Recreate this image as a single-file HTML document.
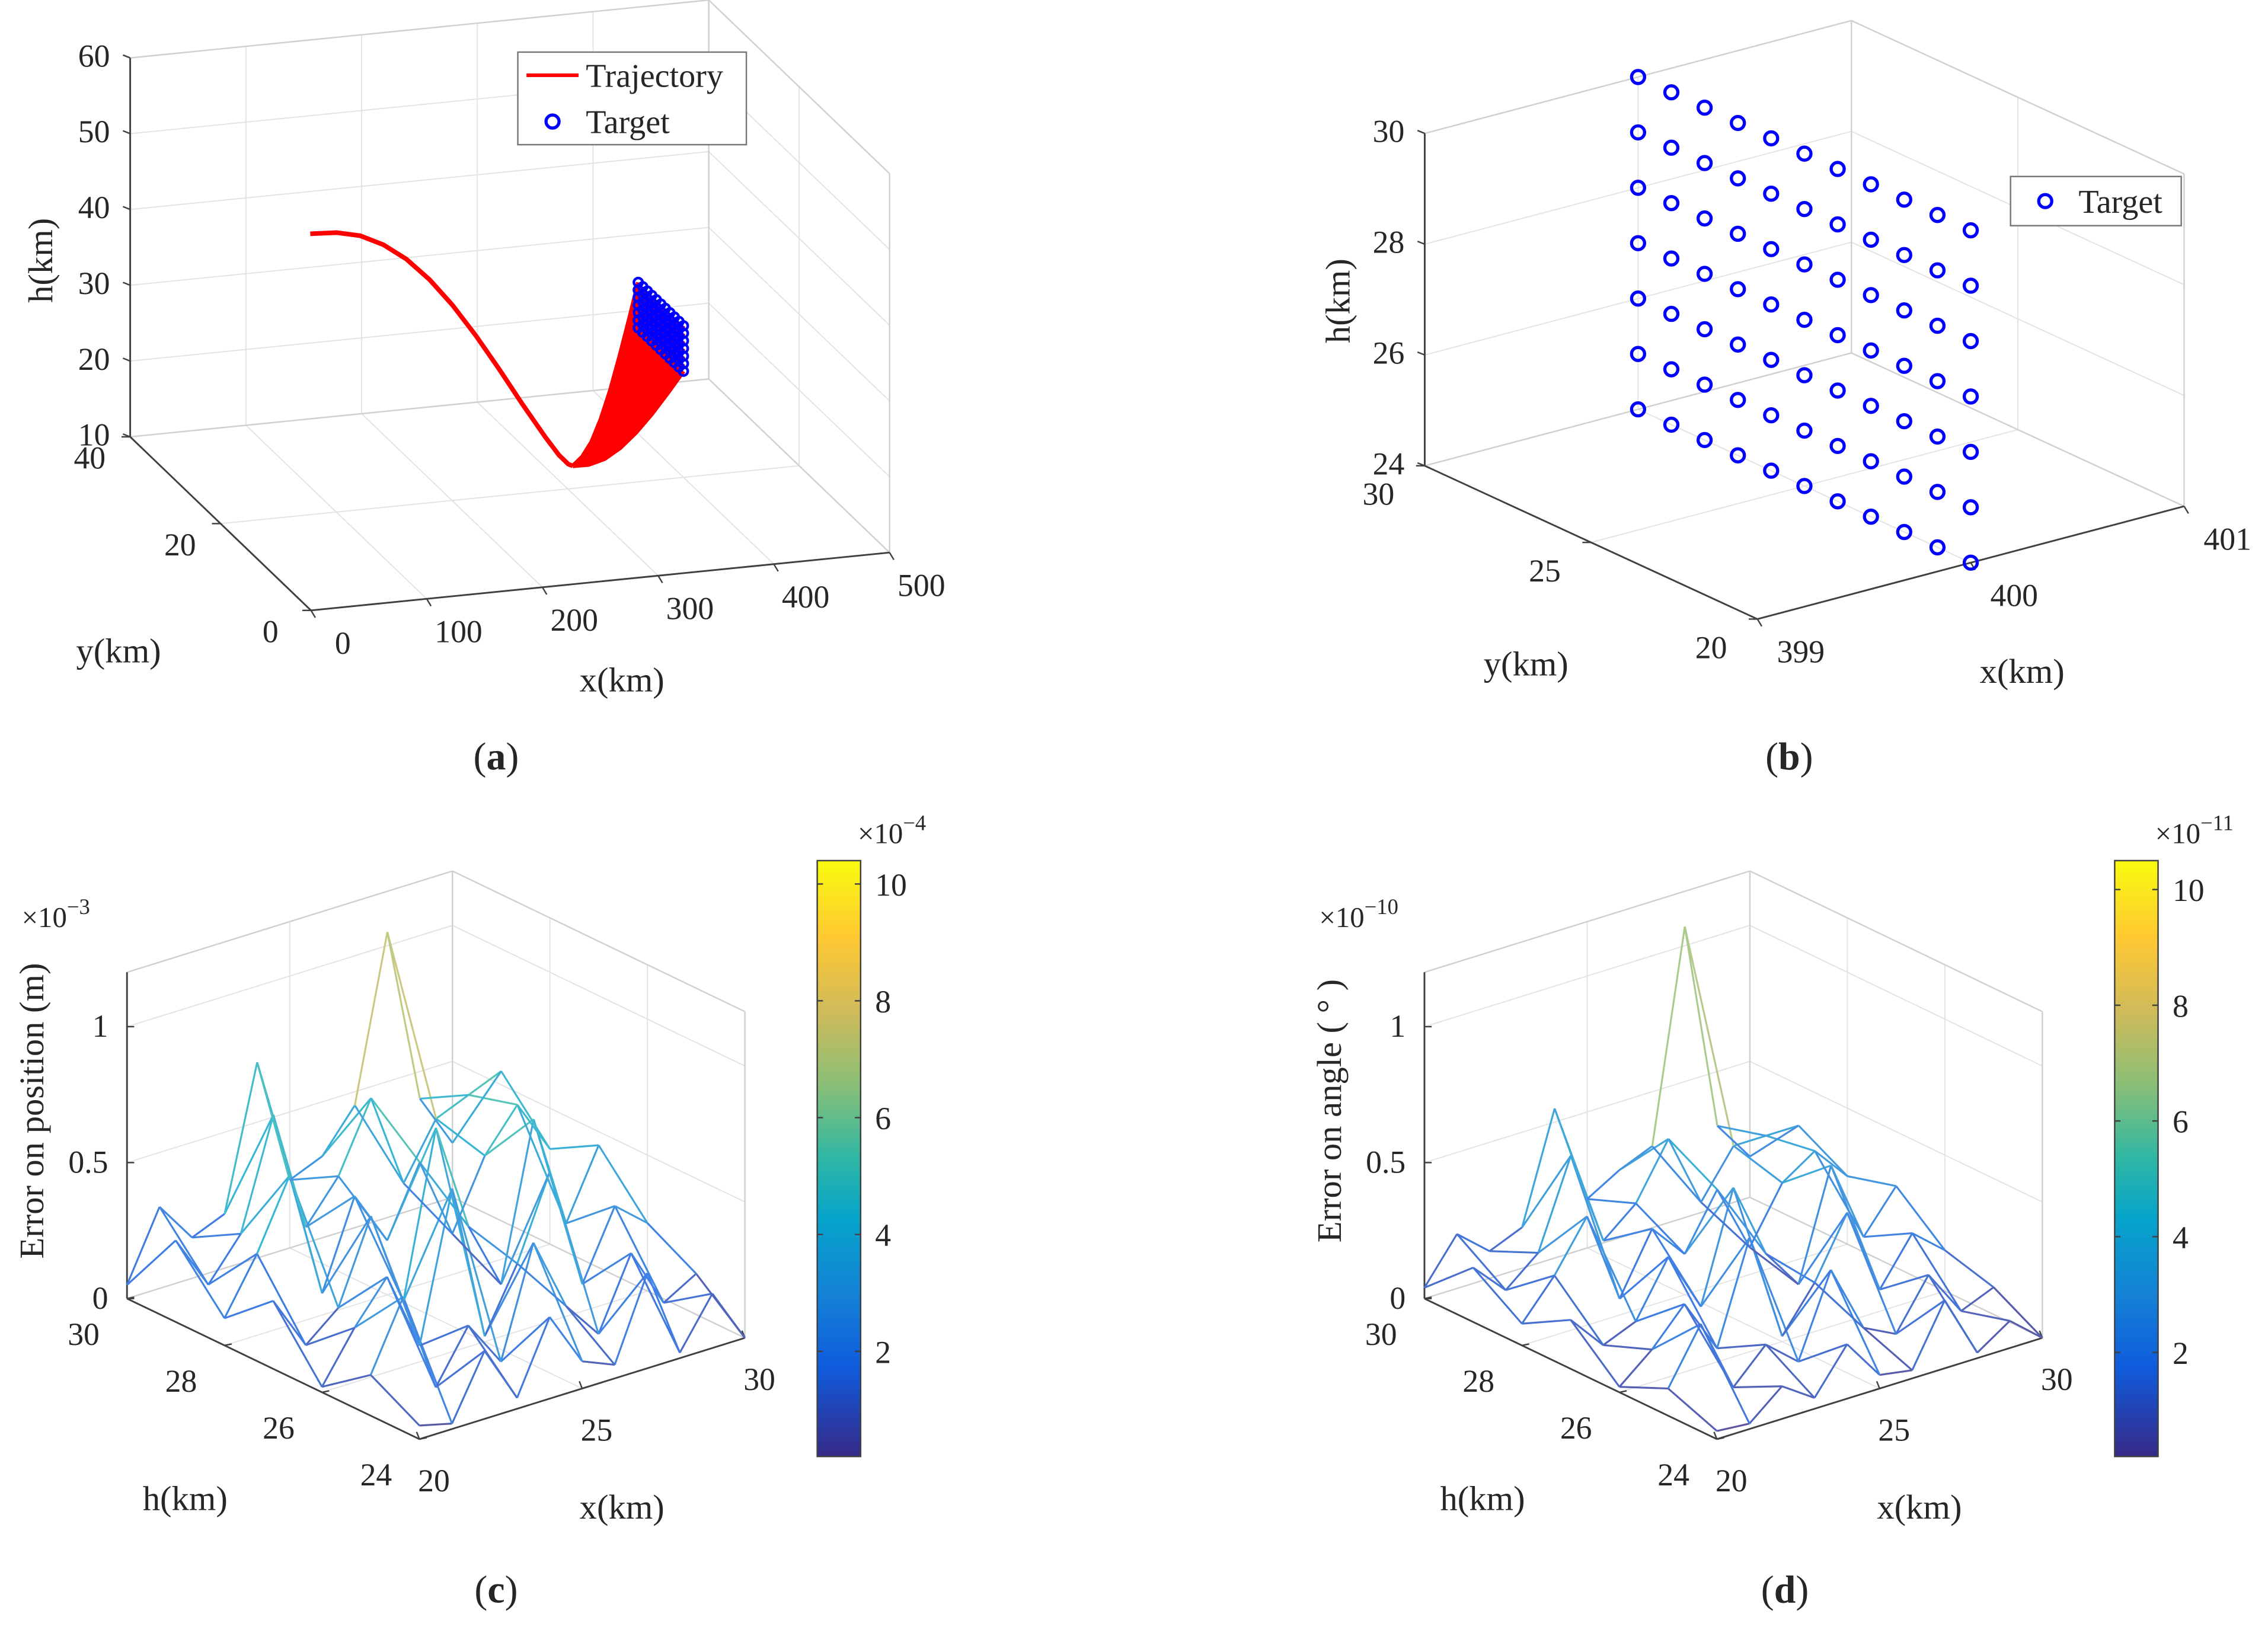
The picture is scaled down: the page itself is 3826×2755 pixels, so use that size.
<!DOCTYPE html>
<html><head><meta charset="utf-8"><style>
html,body{margin:0;padding:0;background:#fff;}
svg{display:block;font-family:"Liberation Serif",serif;}
</style></head><body>
<svg id="fig" width="3826" height="2755" viewBox="0 0 1568 1129" xmlns="http://www.w3.org/2000/svg">
<defs>
<linearGradient id="parula" x1="0" y1="1" x2="0" y2="0">
<stop offset="0" stop-color="#352a87"/><stop offset="0.15" stop-color="#0f5cdd"/><stop offset="0.27" stop-color="#1481d6"/><stop offset="0.4" stop-color="#06a4ca"/><stop offset="0.5" stop-color="#2eb7a4"/><stop offset="0.62" stop-color="#87bf77"/><stop offset="0.75" stop-color="#d1bb59"/><stop offset="0.87" stop-color="#fec832"/><stop offset="1" stop-color="#f9fb0e"/>
</linearGradient>
</defs>
<g id="root"></g>
</svg>
<script>
// ---------- data ----------
const trajX = [97, 120, 140, 160, 180, 200, 220, 240, 260, 280, 300, 312, 320, 324];
const trajH = [43.9, 43.7, 43.0, 41.5, 39.3, 36.3, 32.6, 28.3, 23.6, 18.7, 14.0, 11.4, 10.1, 9.8];
const climbShape = [0, 0.03, 0.1, 0.22, 0.38, 0.57, 0.78, 1];
const targetY = [20, 21, 22, 23, 24, 25, 26, 27, 28, 29, 30];
const targetH = [24, 25, 26, 27, 28, 29, 30];
const targetX = 400;
const gridH = [24, 25, 26, 27, 28, 29, 30];
const gridX = [20, 21, 22, 23, 24, 25, 26, 27, 28, 29, 30];
const errPos = [
 [0.05,0.02,0.25,0.04,0.30,0.10,0.05,0.35,0.02,0.20,0.00],
 [0.15,0.40,0.03,0.22,0.05,0.45,0.18,0.04,0.30,0.08,0.15],
 [0.02,0.20,0.35,0.06,0.60,0.02,0.25,0.55,0.10,0.35,0.25],
 [0.25,0.05,0.15,0.45,0.10,0.70,0.30,0.05,0.62,0.20,0.45],
 [0.10,0.30,0.55,0.08,0.40,0.20,0.45,0.15,0.40,0.55,0.35],
 [0.30,0.10,0.25,0.65,0.20,0.35,0.60,0.25,0.45,0.50,0.55],
 [0.05,0.30,0.15,0.20,0.72,0.25,0.30,0.45,1.05,0.40,0.20]];
const errAng = [
 [0.03,0.02,0.12,0.04,0.20,0.05,0.03,0.25,0.02,0.10,0.00],
 [0.10,0.30,0.03,0.15,0.05,0.35,0.10,0.04,0.22,0.05,0.10],
 [0.02,0.12,0.25,0.05,0.42,0.02,0.18,0.40,0.08,0.25,0.15],
 [0.18,0.05,0.10,0.30,0.08,0.48,0.20,0.05,0.45,0.15,0.30],
 [0.08,0.22,0.40,0.06,0.28,0.15,0.35,0.10,0.30,0.38,0.25],
 [0.20,0.08,0.18,0.50,0.15,0.25,0.45,0.18,0.35,0.35,0.35],
 [0.04,0.20,0.10,0.15,0.55,0.18,0.25,0.30,1.07,0.30,0.15]];
const ticksA = {x:[0,100,200,300,400,500], y:[0,20,40], h:[10,20,30,40,50,60]};
const ticksB = {x:[399,400,401], y:[20,25,30], h:[24,26,28,30]};
const ticksC = {h:[24,26,28,30], x:[20,25,30], z:[0,0.5,1]};
const cbTicks = [2,4,6,8,10];

// ---------- helpers ----------
const NS = "http://www.w3.org/2000/svg";
const root = document.getElementById('root');
function mk(tag, attrs, parent){
  const e = document.createElementNS(NS, tag);
  for (const k in attrs) e.setAttribute(k, attrs[k]);
  (parent||root).appendChild(e);
  return e;
}
function txt(x, y, s, size, anchor, parent){
  const t = mk('text', {x:x, y:y, 'font-size':size, 'text-anchor':anchor||'middle', fill:'#262626'}, parent);
  t.textContent = s;
  return t;
}
const stops = [[0,[53,42,135]],[0.15,[15,92,221]],[0.27,[20,129,214]],[0.4,[6,164,202]],[0.5,[46,183,164]],[0.62,[135,191,119]],[0.75,[209,187,89]],[0.87,[254,200,50]],[1,[249,251,14]]];
function parula(t, light){
  t = Math.max(0, Math.min(1, t));
  for (let i=1;i<stops.length;i++){
    if (t <= stops[i][0]){
      const a=stops[i-1], b=stops[i], f=(t-a[0])/(b[0]-a[0]);
      const c=a[1].map((v,j)=>{const x=v+(b[1][j]-v)*f; return Math.round(x+(255-x)*(light||0));});
      return 'rgb('+c.join(',')+')';
    }
  }
  return 'rgb(249,251,14)';
}
function line(p, q, color, w, parent){
  return mk('line', {x1:p[0], y1:p[1], x2:q[0], y2:q[1], stroke:color, 'stroke-width':w}, parent);
}

function drawBox(g, P, r, tA, tB, tC){
  const [a0,a1]=r[0],[b0,b1]=r[1],[c0,c1]=r[2];
  const gc='#e3e3e3', gw=0.8;
  tA.forEach(a=>{ line(P(a,b0,c0),P(a,b1,c0),gc,gw,g); line(P(a,b1,c0),P(a,b1,c1),gc,gw,g); });
  tB.forEach(b=>{ line(P(a0,b,c0),P(a1,b,c0),gc,gw,g); line(P(a1,b,c0),P(a1,b,c1),gc,gw,g); });
  tC.forEach(c=>{ line(P(a0,b1,c),P(a1,b1,c),gc,gw,g); line(P(a1,b0,c),P(a1,b1,c),gc,gw,g); });
  const bc='#d0d0d0';
  [[P(a0,b1,c0),P(a0,b1,c1)],[P(a0,b1,c1),P(a1,b1,c1)],[P(a1,b1,c0),P(a1,b1,c1)],
   [P(a1,b0,c0),P(a1,b0,c1)],[P(a1,b0,c1),P(a1,b1,c1)],[P(a1,b1,c0),P(a0,b1,c0)],[P(a1,b0,c0),P(a1,b1,c0)]]
   .forEach(s=>line(s[0],s[1],bc,1,g));
}

// ---------- Panel (a) ----------
(function(){
  const g = mk('g', {});
  
  
  const P = (x,y,h)=>[215+0.8*x-3.125*y, 422-0.08*x-3.0*y-5.24*(h-10)];
  drawBox(g, P, [[0,500],[0,40],[10,60]], ticksA.x, ticksA.y, ticksA.h);
  const ax='#404040';
  line(P(0,0,10),P(500,0,10),ax,1.2,g);
  line(P(0,0,10),P(0,40,10),ax,1.2,g);
  line(P(0,40,10),P(0,40,60),ax,1.2,g);
  ticksA.x.forEach(v=>{const p=P(v,0,10); line(p,[p[0]+3,p[1]+5],ax,1,g); txt(p[0]+22,p[1]+30,String(v),22,'middle',g);});
  ticksA.y.forEach(v=>{const p=P(0,v,10); line(p,[p[0]-6,p[1]],ax,1,g); txt(p[0]-28,p[1]+22,String(v),22,'middle',g);});
  ticksA.h.forEach(v=>{const p=P(0,40,v); line(p,[p[0]-5,p[1]-2],ax,1,g); txt(p[0]-14,p[1]+6,String(v),22,'end',g);});
  const xl=txt(430,478,'x(km)',24,'middle',g);  
  const yl=txt(82,458,'y(km)',24,'middle',g);  
  const hl=txt(0,0,'h(km)',24,'middle',g); hl.setAttribute('transform','translate(36,180) rotate(-90)');  
  const tg = mk('g', {}, g);
  
  
  const y0 = 25;
  let d='';
  trajX.forEach((x,i)=>{const p=P(x,y0,trajH[i]); d+=(i?'L':'M')+p[0].toFixed(1)+','+p[1].toFixed(1);});
  const tl = mk('path',{d:d, fill:'none', stroke:'#ff0000', 'stroke-width':3.2, 'stroke-linejoin':'round'}, tg);
  
  
  const xd = trajX[trajX.length-1], hd = trajH[trajH.length-1];
  targetY.forEach(ty=>targetH.forEach(th=>{
    let dd='';
    climbShape.forEach((f,i)=>{
      const s=i/(climbShape.length-1);
      const p=P(xd+(targetX-xd)*s, y0+(ty-y0)*s, hd+(th-hd)*f);
      dd+=(i?'L':'M')+p[0].toFixed(1)+','+p[1].toFixed(1);
    });
    const e = mk('path',{d:dd, fill:'none', stroke:'#ff0000', 'stroke-width':3, 'stroke-linejoin':'round'}, tg);
    
    
  }));
  targetY.forEach(ty=>targetH.forEach(th=>{
    const p=P(targetX,ty,th);
    const c = mk('circle',{cx:p[0],cy:p[1],r:3,fill:'none',stroke:'#0000ff','stroke-width':1.8}, g);
    
    
  }));
  const lg = mk('g',{},g);
  
  
  mk('rect',{x:358,y:36,width:158,height:64,fill:'#fff',stroke:'#777','stroke-width':1},lg);
  line([364,52],[400,52],'#ff0000',2.5,lg);
  txt(405,60,'Trajectory',23,'start',lg);
  mk('circle',{cx:382,cy:84,r:4.5,fill:'none',stroke:'#0000ff','stroke-width':2.2},lg);
  txt(405,92,'Target',23,'start',lg);
})();

// ---------- Panel (b) ----------
(function(){
  const g = mk('g', {});
  
  
  const P = (x,y,h)=>[1215+147.5*(x-399)-23*(y-20), 428-39*(x-399)-10.6*(y-20)-38.3*(h-24)];
  drawBox(g, P, [[399,401],[20,30],[24,30]], ticksB.x, ticksB.y, ticksB.h);
  const ax='#404040';
  line(P(399,20,24),P(401,20,24),ax,1.2,g);
  line(P(399,20,24),P(399,30,24),ax,1.2,g);
  line(P(399,30,24),P(399,30,30),ax,1.2,g);
  ticksB.x.forEach(v=>{const p=P(v,20,24); line(p,[p[0]+3,p[1]+5],ax,1,g); txt(p[0]+30,p[1]+30,String(v),22,'middle',g);});
  ticksB.y.forEach(v=>{const p=P(399,v,24); line(p,[p[0]-6,p[1]],ax,1,g); txt(p[0]-32,p[1]+27,String(v),22,'middle',g);});
  ticksB.h.forEach(v=>{const p=P(399,30,v); line(p,[p[0]-5,p[1]-2],ax,1,g); txt(p[0]-14,p[1]+6,String(v),22,'end',g);});
  const xl=txt(1398,472,'x(km)',24,'middle',g);  
  const yl=txt(1055,467,'y(km)',24,'middle',g);  
  const hl=txt(0,0,'h(km)',24,'middle',g); hl.setAttribute('transform','translate(933,208) rotate(-90)');  
  targetY.forEach(ty=>targetH.forEach(th=>{
    const p=P(targetX,ty,th);
    const c = mk('circle',{cx:p[0],cy:p[1],r:4.5,fill:'none',stroke:'#0000ff','stroke-width':2.2}, g);
    
    
  }));
  const lg = mk('g',{},g);
  
  
  mk('rect',{x:1390,y:122,width:118,height:34,fill:'#fff',stroke:'#777','stroke-width':1},lg);
  mk('circle',{cx:1414,cy:139,r:4.5,fill:'none',stroke:'#0000ff','stroke-width':2.2},lg);
  txt(1437,147,'Target',23,'start',lg);
})();

// ---------- Panels (c),(d) ----------
function meshPanel(dx, Z, name, ylab, zexp, cbexp, cbTop, cbBot, cbMax){
  const g = mk('g', {});
  
  
  const P = (h,x,z)=>[dx+290-33.7*(h-24)+22.5*(x-20), 995-16.2*(h-24)-7*(x-20)-188*z];
  drawBox(g, P, [[24,30],[20,30],[0,1.2]], ticksC.h, ticksC.x, ticksC.z);
  const ax='#404040';
  line(P(24,20,0),P(30,20,0),ax,1.2,g);
  line(P(24,20,0),P(24,30,0),ax,1.2,g);
  line(P(30,20,0),P(30,20,1.2),ax,1.2,g);
  ticksC.h.forEach(v=>{const p=P(v,20,0); line(p,[p[0]+5,p[1]-1],ax,1,g); txt(p[0]-30,p[1]+32,String(v),22,'middle',g);});
  ticksC.x.forEach(v=>{const p=P(24,v,0); line(p,[p[0]-2,p[1]-5],ax,1,g); txt(p[0]+10,p[1]+36,String(v),22,'middle',g);});
  ticksC.z.forEach(v=>{const p=P(30,20,v); line(p,[p[0]+5,p[1]],ax,1,g); txt(p[0]-13,p[1]+7,String(v),22,'end',g);});
  const ex=txt(dx+15,641,'×10',20,'start',g); const sp=mk('tspan',{dy:-9,'font-size':15},ex); sp.textContent=zexp;
  const xl=txt(dx+430,1050,'x(km)',24,'middle',g);  
  const hl=txt(dx+128,1044,'h(km)',24,'middle',g);  
  const zl=txt(0,0,ylab,24,'middle',g); zl.setAttribute('transform','translate('+(dx+30)+',768) rotate(-90)');  
  const mg = mk('g',{},g);
  
  
  const cz = z=>parula((z*10-0.2)/(cbMax-0.2), 0.2);
  for (let i=0;i<gridH.length;i++) for (let j=0;j<gridX.length;j++){
    const p=P(gridH[i],gridX[j],Z[i][j]);
    if (j+1<gridX.length){ const q=P(gridH[i],gridX[j+1],Z[i][j+1]); const e=line(p,q,cz((Z[i][j]+Z[i][j+1])/2),1.3,mg);   }
    if (i+1<gridH.length){ const q=P(gridH[i+1],gridX[j],Z[i+1][j]); const e=line(p,q,cz((Z[i][j]+Z[i+1][j])/2),1.3,mg);   }
  }
  const cb = mk('g',{},g);
  
  
  const cx0 = dx+565;
  mk('rect',{x:cx0,y:cbTop,width:30,height:cbBot-cbTop,fill:'url(#parula)',stroke:'#404040','stroke-width':1},cb);
  const cy = v=>cbBot-(v-0.2)/(cbMax-0.2)*(cbBot-cbTop);
  cbTicks.forEach(v=>{ line([cx0,cy(v)],[cx0+4,cy(v)],'#404040',1,cb); line([cx0+26,cy(v)],[cx0+30,cy(v)],'#404040',1,cb); txt(cx0+40,cy(v)+8,String(v),22,'start',cb); });
  const ce=txt(cx0+28,583,'×10',20,'start',cb); const sp2=mk('tspan',{dy:-9,'font-size':15},ce); sp2.textContent=cbexp;
}
meshPanel(0, errPos, 'panel-c-position-error', 'Error on position (m)', '−3', '−4', 595, 1007, 10.4);
meshPanel(897, errAng, 'panel-d-angle-error', 'Error on angle ( ° )', '−10', '−11', 595, 1007, 10.5);

[['(a)',343,532],['(b)',1237,532],['(c)',343,1108],['(d)',1234,1108]].forEach(c=>{
  const t = txt(c[1],c[2],'',27,'middle');
  
  
  const a=mk('tspan',{},t); a.textContent='(';
  const b=mk('tspan',{'font-weight':'bold'},t); b.textContent=c[0][1];
  const d=mk('tspan',{},t); d.textContent=')';
});
</script>
</body></html>
